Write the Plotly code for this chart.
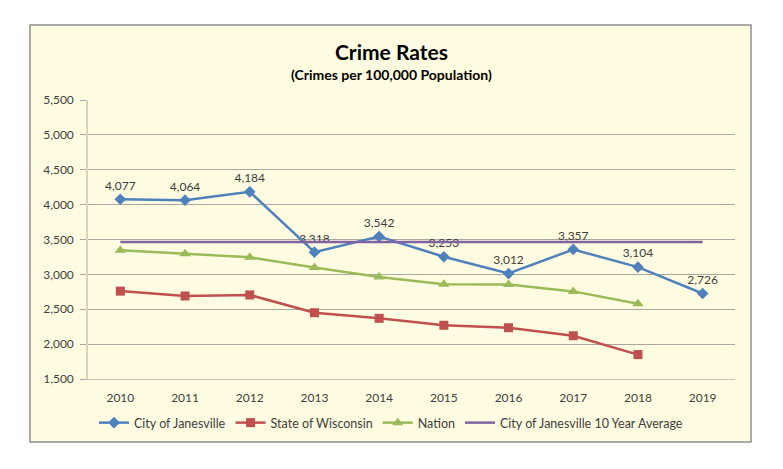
import plotly.graph_objects as go

years = ["2010", "2011", "2012", "2013", "2014", "2015", "2016", "2017", "2018", "2019"]
janesville = [4077, 4064, 4184, 3318, 3542, 3253, 3012, 3357, 3104, 2726]
wisconsin = [2760, 2690, 2705, 2450, 2370, 2270, 2235, 2120, 1850]
nation = [3346, 3295, 3246, 3099, 2962, 2860, 2854, 2756, 2580]
avg_value = 3464
avg_series = [avg_value] * len(years)
jv_labels = [f"{v:,}" for v in janesville]

FONT = "Lato, sans-serif"

fig = go.Figure()
fig.add_trace(go.Scatter(
    x=years, y=janesville, name="City of Janesville", mode="lines+markers+text",
    line=dict(color="#4F81BD", width=2.5),
    marker=dict(symbol="diamond", size=9, color="#4F81BD"),
    text=jv_labels, textposition="top center",
    textfont=dict(size=12, color="#404040", family=FONT)))
fig.add_trace(go.Scatter(
    x=years[:len(wisconsin)], y=wisconsin, name="State of Wisconsin", mode="lines+markers",
    line=dict(color="#C0504D", width=2.5),
    marker=dict(symbol="square", size=9, color="#C0504D")))
fig.add_trace(go.Scatter(
    x=years[:len(nation)], y=nation, name="Nation", mode="lines+markers",
    line=dict(color="#9BBB59", width=2.5),
    marker=dict(symbol="triangle-up", size=10, color="#9BBB59")))
fig.add_trace(go.Scatter(
    x=years, y=avg_series, name="City of Janesville 10 Year Average", mode="lines",
    line=dict(color="#8064A2", width=2.5)))

# page offset of 8px (body margin) -> work in figure coords = screen - 8
OFF = 8
W, H = 775, 461
L, R, T, B = 88 - OFF, 735 - OFF, 100 - OFF, 379 - OFF
pw, ph = R - L, B - T

def px(x):
    return (x - OFF - L) / pw

def py(y):
    return (B - (y - OFF)) / ph

fig.add_shape(type="rect", xref="paper", yref="paper",
              x0=px(30), x1=px(751), y0=py(442), y1=py(25),
              fillcolor="#FFFCE1", line=dict(color="#8F8F8F", width=1.5), layer="below")

fig.add_annotation(text="<b>Crime Rates</b>", xref="paper", yref="paper",
                   x=px(391), y=py(51), xanchor="center", yanchor="middle", showarrow=False,
                   font=dict(size=21, color="#000000", family=FONT))
fig.add_annotation(text="<b>(Crimes per 100,000 Population)</b>", xref="paper", yref="paper",
                   x=px(391), y=py(75), xanchor="center", yanchor="middle", showarrow=False,
                   font=dict(size=14, color="#000000", family=FONT))

fig.update_layout(
    width=W, height=H,
    margin=dict(l=L, r=W - R, t=T, b=H - B),
    paper_bgcolor="white", plot_bgcolor="rgba(0,0,0,0)",
    font=dict(family=FONT, size=12, color="#404040"),
    showlegend=True,
    legend=dict(orientation="h", x=px(94), xanchor="left", y=py(423), yanchor="middle",
                font=dict(size=12.5, color="#404040"), bgcolor="rgba(0,0,0,0)",
                itemwidth=30, tracegroupgap=0),
    xaxis=dict(type="category", range=[-0.5, 9.5], showgrid=False,
               showline=True, linecolor="#C8C4A8", linewidth=1,
               ticks="", ticklabelstandoff=8, tickfont=dict(size=12, color="#404040")),
    yaxis=dict(range=[1500, 5500], dtick=500, tickformat=",", showgrid=True,
               gridcolor="#A8A8A0", gridwidth=1, zeroline=False,
               showline=True, linecolor="#D8D4B8", linewidth=1.5,
               ticks="outside", ticklen=6, tickcolor="#A8A8A0", ticklabelstandoff=4,
               tickfont=dict(size=12, color="#404040")),
)

fig.write_html("out.html")
